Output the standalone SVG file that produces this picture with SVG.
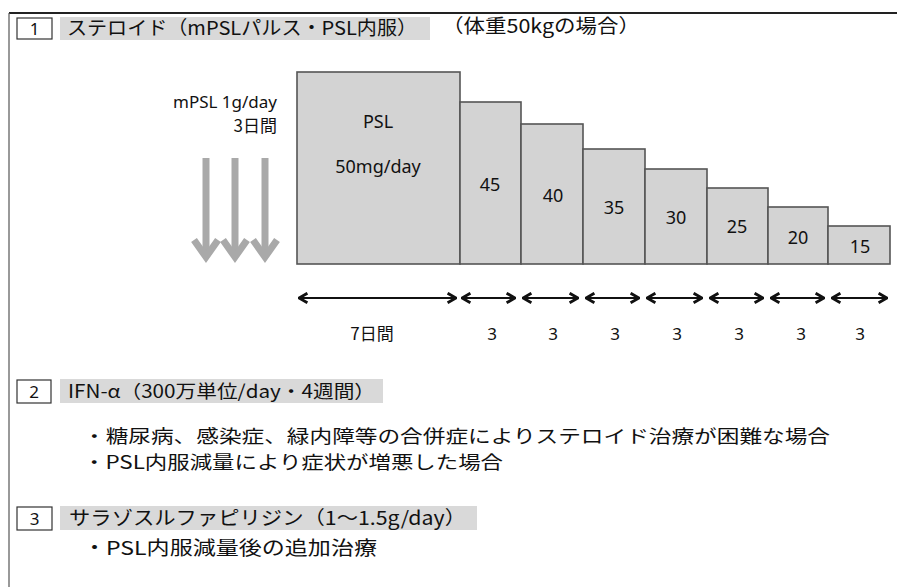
<svg xmlns="http://www.w3.org/2000/svg" width="897" height="587" viewBox="0 0 897 587">
<defs>
<style>
.jp{font-family:"Noto Sans CJK JP","Noto Sans",sans-serif;fill:#111}
.lat{font-family:"Noto Sans","Liberation Sans",sans-serif;fill:#111}
.band{fill:#d9d9d9}
.numbox{fill:#fff;stroke:#333;stroke-width:1.2}
.bar{fill:#d3d3d3;stroke:#555;stroke-width:1.6}
.garrow{fill:none;stroke:#a9a9a9;stroke-width:7}
.darrow{fill:none;stroke:#111;stroke-width:2;marker-start:url(#hs);marker-end:url(#he)}
</style>
<marker id="he" viewBox="0 0 10 10" refX="9" refY="5" markerWidth="6" markerHeight="6.5" orient="auto" markerUnits="strokeWidth">
<path d="M2,1 L9,5 L2,9" fill="none" stroke="#111" stroke-width="2.4"/>
</marker>
<marker id="hs" viewBox="0 0 10 10" refX="1" refY="5" markerWidth="6" markerHeight="6.5" orient="auto" markerUnits="strokeWidth">
<path d="M8,1 L1,5 L8,9" fill="none" stroke="#111" stroke-width="2.4"/>
</marker>
</defs>
<rect width="897" height="587" fill="#fff"/>
<g id="frame">
<line x1="9" y1="13" x2="897" y2="13" stroke="#222" stroke-width="2"/>
<line x1="9" y1="13" x2="9" y2="587" stroke="#555" stroke-width="1.2"/>
</g>
<g id="section1-title">
<rect class="band" x="60" y="17" width="370" height="23"/>
<rect class="numbox" x="17" y="18" width="35" height="21"/>
<text class="lat" x="34.5" y="35" font-size="17" text-anchor="middle">1</text>
<text class="jp" x="67" y="35" font-size="19" textLength="350" lengthAdjust="spacingAndGlyphs">ステロイド（mPSLパルス・PSL内服）</text>
<text class="jp" x="442" y="33" font-size="19" textLength="198" lengthAdjust="spacingAndGlyphs">（体重50kgの場合）</text>
</g>
<g id="pulse">
<text class="lat" x="277" y="108" font-size="17" text-anchor="end">mPSL 1g/day</text>
<text class="jp" x="277" y="132" font-size="17" text-anchor="end">3日間</text>
<g id="pulse-arrows">
<line class="garrow" x1="206" y1="158" x2="206" y2="256"/>
<polyline class="garrow" points="194,240 206,257 218,240"/>
<line class="garrow" x1="235" y1="158" x2="235" y2="256"/>
<polyline class="garrow" points="223,240 235,257 247,240"/>
<line class="garrow" x1="265" y1="158" x2="265" y2="256"/>
<polyline class="garrow" points="253,240 265,257 277,240"/>
</g>
</g>
<g id="bars">
<g id="bar50"><rect class="bar" x="297" y="72" width="163" height="192"/>
<text class="lat" x="378" y="128" font-size="18" text-anchor="middle">PSL</text>
<text class="lat" x="378" y="173" font-size="18" text-anchor="middle">50mg/day</text></g>
<g id="bar45"><rect class="bar" x="460" y="102" width="61" height="162"/><text class="lat" x="490" y="191" font-size="18" text-anchor="middle">45</text></g>
<g id="bar40"><rect class="bar" x="521" y="124" width="62" height="140"/><text class="lat" x="553" y="202" font-size="18" text-anchor="middle">40</text></g>
<g id="bar35"><rect class="bar" x="583" y="149" width="62" height="115"/><text class="lat" x="614" y="214" font-size="18" text-anchor="middle">35</text></g>
<g id="bar30"><rect class="bar" x="645" y="169" width="62" height="95"/><text class="lat" x="676" y="224" font-size="18" text-anchor="middle">30</text></g>
<g id="bar25"><rect class="bar" x="707" y="188" width="61" height="76"/><text class="lat" x="737" y="233" font-size="18" text-anchor="middle">25</text></g>
<g id="bar20"><rect class="bar" x="768" y="207" width="60" height="57"/><text class="lat" x="798" y="244" font-size="18" text-anchor="middle">20</text></g>
<g id="bar15"><rect class="bar" x="828" y="226" width="62" height="38"/><text class="lat" x="860" y="253" font-size="18" text-anchor="middle">15</text></g>
</g>
<g id="connectors">
<line class="darrow" x1="299" y1="298" x2="456" y2="298"/>
<line class="darrow" x1="462" y1="298" x2="515" y2="298"/>
<line class="darrow" x1="523" y1="298" x2="578" y2="298"/>
<line class="darrow" x1="586" y1="298" x2="639" y2="298"/>
<line class="darrow" x1="647" y1="298" x2="702" y2="298"/>
<line class="darrow" x1="710" y1="298" x2="763" y2="298"/>
<line class="darrow" x1="771" y1="298" x2="824" y2="298"/>
<line class="darrow" x1="832" y1="298" x2="887" y2="298"/>
</g>
<g id="durations">
<text class="jp" x="372" y="340" font-size="17" text-anchor="middle">7日間</text>
<text class="lat" x="492" y="340" font-size="17" text-anchor="middle">3</text>
<text class="lat" x="553" y="340" font-size="17" text-anchor="middle">3</text>
<text class="lat" x="615" y="340" font-size="17" text-anchor="middle">3</text>
<text class="lat" x="677" y="340" font-size="17" text-anchor="middle">3</text>
<text class="lat" x="739" y="340" font-size="17" text-anchor="middle">3</text>
<text class="lat" x="801" y="340" font-size="17" text-anchor="middle">3</text>
<text class="lat" x="860" y="340" font-size="17" text-anchor="middle">3</text>
</g>
<g id="section2">
<rect class="band" x="60" y="379" width="323" height="24"/>
<rect class="numbox" x="17" y="380" width="34" height="23"/>
<text class="lat" x="34" y="398" font-size="17" text-anchor="middle">2</text>
<text class="jp" x="68" y="398" font-size="18" textLength="307" lengthAdjust="spacingAndGlyphs">IFN-α（300万単位/day・4週間）</text>
<text class="jp" x="83" y="443" font-size="18" textLength="747" lengthAdjust="spacingAndGlyphs">・糖尿病、感染症、緑内障等の合併症によりステロイド治療が困難な場合</text>
<text class="jp" x="83" y="469" font-size="18" textLength="420" lengthAdjust="spacingAndGlyphs">・PSL内服減量により症状が増悪した場合</text>
</g>
<g id="section3">
<rect class="band" x="60" y="506" width="417" height="24"/>
<rect class="numbox" x="17" y="507" width="35" height="23"/>
<text class="lat" x="34.5" y="525" font-size="17" text-anchor="middle">3</text>
<text class="jp" x="69" y="525" font-size="19" textLength="397" lengthAdjust="spacingAndGlyphs">サラゾスルファピリジン（1～1.5g/day）</text>
<text class="jp" x="83" y="555" font-size="19" textLength="294" lengthAdjust="spacingAndGlyphs">・PSL内服減量後の追加治療</text>
</g>
</svg>
